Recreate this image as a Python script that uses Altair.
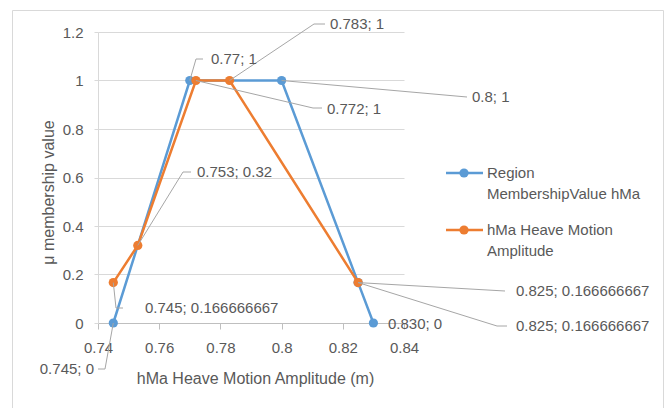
import altair as alt
import pandas as pd

# ---------------- data ----------------
series_names = ["Region MembershipValue hMa", "hMa Heave Motion Amplitude"]
series_colors = ["#5B9BD5", "#ED7D31"]

blue_x = [0.745, 0.77, 0.8, 0.825, 0.83]
blue_y = [0, 1, 1, 0.166666667, 0]

orange_x = [0.745, 0.753, 0.772, 0.783, 0.825]
orange_y = [0.166666667, 0.32, 1, 1, 0.166666667]

x_ticks = [0.74, 0.76, 0.78, 0.8, 0.82, 0.84]
y_ticks = [0, 0.2, 0.4, 0.6, 0.8, 1, 1.2]

x_title = "hMa Heave Motion Amplitude (m)"
y_title = "\u03bc membership value"

legend_lines = [["Region", "MembershipValue hMa"], ["hMa Heave Motion", "Amplitude"]]

# data labels: (series index, point index, text)
label_series = [0, 1, 1, 0, 1, 1, 0, 0, 1, 0]
label_point = [0, 0, 1, 1, 2, 3, 2, 3, 4, 4]
label_text = ["0.745; 0", "0.745; 0.166666667", "0.753; 0.32", "0.77; 1", "0.772; 1",
              "0.783; 1", "0.8; 1", "0.825; 0.166666667", "0.825; 0.166666667", "0.830; 0"]

# ---------------- layout (page pixels) ----------------
X0, Y0, W, H = 98, 32, 306, 291
XMIN, XMAX, YMIN, YMAX = 0.74, 0.84, 0.0, 1.2
PAGE_W, PAGE_H = 668, 408

label_pos = [(94, 369), (145, 308), (197, 172), (211, 59), (327, 109),
             (330, 24), (472, 97), (516, 291), (516, 326), (388, 324)]
label_align = ["right"] + ["left"] * 9
leader_bends = [[(105, 369), (98, 369)], [(116, 308), (123, 308)], [(183, 172), (191, 172)],
                [(196, 59), (203, 59)], [(313, 108), (322, 108)], [(314, 24), (325, 24)],
                [(467, 97)], [(505, 291)], [(497, 326), (507, 326)], []]


def px_to_x(px):
    return XMIN + (px - X0) / W * (XMAX - XMIN)


def py_to_y(py):
    return YMAX - (py - Y0) / H * (YMAX - YMIN)


FONT = "Liberation Sans"
TXT = "#595959"
GRID = "#d9d9d9"
MSIZE = 85

series = [(blue_x, blue_y), (orange_x, orange_y)]

xs = alt.Scale(domain=[XMIN, XMAX], nice=False, zero=False)
ys = alt.Scale(domain=[YMIN, YMAX], nice=False, zero=False)

x_axis = alt.Axis(values=x_ticks, format="~g", grid=False, domainColor="#bfbfbf",
                  tickColor="#bfbfbf", tickSize=6, labelFont=FONT, labelFontSize=15,
                  labelColor=TXT, labelBaseline="middle", labelPadding=18,
                  labelFlush=False, labelOverlap=False,
                  title=x_title, titleFont=FONT, titleFontSize=16, titleFontWeight="normal",
                  titleColor=TXT, titleX=(255 - X0), titleY=(378 - Y0 - H),
                  titleBaseline="middle", titleAlign="center")
y_axis = alt.Axis(values=y_ticks, format="~g", grid=True, gridColor=GRID, domainColor=GRID,
                  tickColor=GRID, tickSize=4, labelFont=FONT, labelFontSize=15,
                  labelColor=TXT, labelPadding=11, labelFlush=False, labelOverlap=False,
                  title=y_title, titleFont=FONT, titleFontSize=16, titleFontWeight="normal",
                  titleColor=TXT, titleX=(48 - X0), titleY=(192 - Y0), titleAngle=-90,
                  titleBaseline="middle", titleAlign="center")

X = alt.X("x:Q", scale=xs, axis=x_axis)
Y = alt.Y("y:Q", scale=ys, axis=y_axis)

layers = []

# outer chart border
layers.append(
    alt.Chart(alt.Data(values=[{}])).mark_rect(fill="white", fillOpacity=0, stroke=GRID, strokeWidth=1)
    .encode(x=alt.value(12 - X0 + 0.5), x2=alt.value(663 - X0 + 0.5),
            y=alt.value(10 - Y0 + 0.5), y2=alt.value(PAGE_H - Y0 + 20))
)

# leader lines
lead_rows = []
for i, bends in enumerate(leader_bends):
    if not bends:
        continue
    sx, sy = series[label_series[i]]
    p = label_point[i]
    lead_rows.append({"lid": i, "seq": 0, "x": sx[p], "y": sy[p]})
    for k, (bx, by) in enumerate(bends):
        lead_rows.append({"lid": i, "seq": k + 1, "x": px_to_x(bx), "y": py_to_y(by)})
lead_df = pd.DataFrame(lead_rows)

# series lines and markers
for si, (sx, sy) in enumerate(series):
    df = pd.DataFrame({"x": sx, "y": sy, "i": list(range(len(sx))), "series": series_names[si]})
    layers.append(alt.Chart(df).mark_line(color=series_colors[si], strokeWidth=2.5)
                  .encode(x=X, y=Y, order="i:Q"))
    layers.append(alt.Chart(df).mark_point(filled=True, size=MSIZE, opacity=1, color=series_colors[si])
                  .encode(x=X, y=Y))

layers.append(alt.Chart(lead_df).mark_line(color="#a6a6a6", strokeWidth=1)
              .encode(x=X, y=Y, detail="lid:N", order="seq:Q"))

# data label texts
lab_df = pd.DataFrame({
    "x": [px_to_x(p[0]) for p in label_pos],
    "y": [py_to_y(p[1]) for p in label_pos],
    "text": label_text,
    "align": label_align,
})
for al in ["left", "right"]:
    layers.append(
        alt.Chart(lab_df[lab_df["align"] == al]).mark_text(
            align=al, baseline="middle", font=FONT, fontSize=15, color=TXT)
        .encode(x=X, y=Y, text="text:N")
    )

# legend (drawn by hand, Excel style)
leg_line_y = [173, 230]
for si in range(2):
    ly = leg_line_y[si] - Y0
    layers.append(alt.Chart(alt.Data(values=[{}])).mark_rule(color=series_colors[si], strokeWidth=2.5)
                  .encode(x=alt.value(446 - X0), x2=alt.value(483 - X0), y=alt.value(ly)))
    layers.append(alt.Chart(alt.Data(values=[{}])).mark_point(filled=True, size=MSIZE, opacity=1,
                                                               color=series_colors[si])
                  .encode(x=alt.value(464 - X0), y=alt.value(ly)))
    for li, line in enumerate(legend_lines[si]):
        layers.append(alt.Chart(alt.Data(values=[{}])).mark_text(
            text=line, align="left", baseline="middle", font=FONT, fontSize=15, color=TXT)
            .encode(x=alt.value(487 - X0), y=alt.value(ly + li * 21)))

chart = alt.layer(*layers).properties(
    width=W, height=H,
    autosize=alt.AutoSizeParams(type="none"),
    padding={"left": X0, "top": Y0, "right": PAGE_W - X0 - W, "bottom": PAGE_H - Y0 - H},
    background="white",
).configure_view(stroke=None)

chart.save("out.html", embed_options={"renderer": "svg", "actions": False})
